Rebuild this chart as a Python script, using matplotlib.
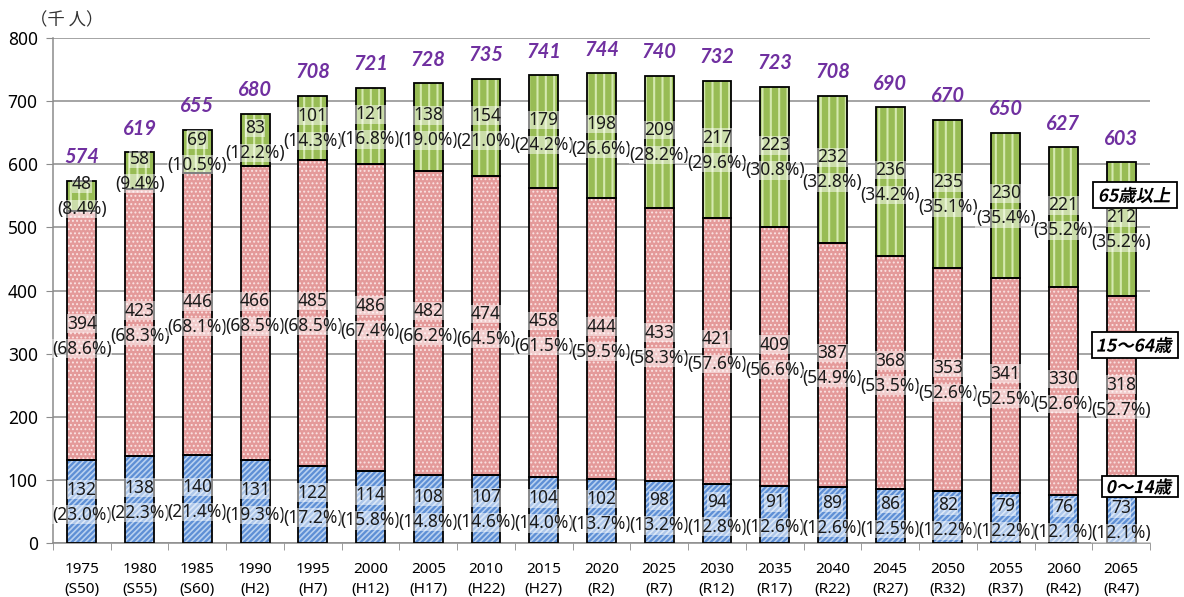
import matplotlib
matplotlib.use("Agg")
import matplotlib.pyplot as plt
import numpy as np
from matplotlib.textpath import TextPath
from matplotlib.font_manager import FontProperties
from matplotlib.patches import PathPatch, Rectangle
from matplotlib.transforms import Affine2D, IdentityTransform

plt.rcParams['font.family'] = ['Noto Sans CJK JP', 'DejaVu Sans']

years = ['1975\n(S50)', '1980\n(S55)', '1985\n(S60)', '1990\n(H2)', '1995\n(H7)',
         '2000\n(H12)', '2005\n(H17)', '2010\n(H22)', '2015\n(H27)', '2020\n(R2)',
         '2025\n(R7)', '2030\n(R12)', '2035\n(R17)', '2040\n(R22)', '2045\n(R27)',
         '2050\n(R32)', '2055\n(R37)', '2060\n(R42)', '2065\n(R47)']
young = [132, 138, 140, 131, 122, 114, 108, 107, 104, 102, 98, 94, 91, 89, 86, 82, 79, 76, 73]
young_pct = [23.0, 22.3, 21.4, 19.3, 17.2, 15.8, 14.8, 14.6, 14.0, 13.7, 13.2, 12.8, 12.6, 12.6,
             12.5, 12.2, 12.2, 12.1, 12.1]
working = [394, 423, 446, 466, 485, 486, 482, 474, 458, 444, 433, 421, 409, 387, 368, 353, 341, 330, 318]
working_pct = [68.6, 68.3, 68.1, 68.5, 68.5, 67.4, 66.2, 64.5, 61.5, 59.5, 58.3, 57.6, 56.6, 54.9,
               53.5, 52.6, 52.5, 52.6, 52.7]
elderly = [48, 58, 69, 83, 101, 121, 138, 154, 179, 198, 209, 217, 223, 232, 236, 235, 230, 221, 212]
elderly_pct = [8.4, 9.4, 10.5, 12.2, 14.3, 16.8, 19.0, 21.0, 24.2, 26.6, 28.2, 29.6, 30.8, 32.8,
               34.2, 35.1, 35.4, 35.2, 35.2]
totals = [574, 619, 655, 680, 708, 721, 728, 735, 741, 744, 740, 732, 723, 708, 690, 670, 650, 627, 603]
series_names = ['0～14歳', '15～64歳', '65歳以上']

W, H = 1184, 597
fig = plt.figure(figsize=(W/100, H/100), dpi=100)
ax = fig.add_axes([53/W, 1-543/H, 1097/W, 505/H])

x = np.arange(len(years))
w = 0.5
young_a = np.array(young)
work_a = np.array(working)
eld_a = np.array(elderly)

segs = [
    (young_a, np.zeros(len(x)), '#5E8FD5', '#B9D1F0', '//////', 1.2, young_pct),
    (work_a, young_a, '#E49A9A', '#FBE3E3', '....', 0.9, working_pct),
    (eld_a, young_a + work_a, '#98BC55', '#D5E9B0', '||', 1.5, elderly_pct),
]
label_font = ['Noto Sans', 'DejaVu Sans']
for vals, bottom, fc, hc, hatch, hlw, pcts in segs:
    with plt.rc_context({'hatch.linewidth': hlw}):
        bars = ax.bar(x, vals, w, bottom=bottom, color=fc, edgecolor=hc, hatch=hatch,
                      linewidth=0, zorder=2)
        for b in bars:
            if hasattr(b, 'set_hatch_linewidth'):
                b.set_hatch_linewidth(hlw)
    ax.bar(x, vals, w, bottom=bottom, facecolor='none', edgecolor='black', linewidth=1.3, zorder=3)
    for xi, v, b, p in zip(x, vals, bottom, pcts):
        mid = b + v / 2
        bb = dict(boxstyle='square,pad=0.02', facecolor='white', edgecolor='none', alpha=0.5)
        ax.annotate(f'{v}', (xi, mid), xytext=(0, 8.5), textcoords='offset points',
                    ha='center', va='center', fontsize=12.5, color='#1a1a1a', bbox=bb,
                    zorder=4, family=label_font)
        ax.annotate(f'({p:.1f}%)', (xi, mid), xytext=(0, -9.5), textcoords='offset points',
                    ha='center', va='center', fontsize=12.5, color='#1a1a1a', bbox=bb,
                    zorder=4, family=label_font)

for xi, t in zip(x, totals):
    ax.annotate(f'{t}', (xi, t), xytext=(0, 17), textcoords='offset points',
                ha='center', va='center', fontsize=14.5, fontweight='bold', fontstyle='italic',
                color='#7030A0', zorder=5, family=['Lato', 'DejaVu Sans'])

ax.set_xlim(-0.5, len(x) - 0.5)
ax.set_ylim(0, 800)
ax.set_yticks(range(0, 801, 100))
ax.yaxis.grid(True, color='#8c8c8c', linewidth=1.1)
ax.set_axisbelow(True)
ax.set_xticks(x)
ax.set_xticklabels(years, fontsize=11, linespacing=1.45, family=['Noto Sans', 'DejaVu Sans'])
ax.set_xticks(np.arange(-0.5, len(x), 1.0), minor=True)
ax.tick_params(axis='x', which='major', length=0, pad=14)
ax.tick_params(axis='x', which='minor', length=5, color='#8c8c8c', direction='out')
ax.tick_params(axis='y', length=5, color='#8c8c8c', labelsize=12.5, pad=6)
for lab in ax.get_yticklabels():
    lab.set_family(['Noto Sans', 'DejaVu Sans'])
for s in ['top', 'right']:
    ax.spines[s].set_visible(False)
for s in ['left', 'bottom']:
    ax.spines[s].set_color('#8c8c8c')
    ax.spines[s].set_linewidth(1.1)

fig.text(67/W, 1-20/H, '（千 人）', ha='center', va='center', fontsize=12.5, color='#333333')

# legend-like labels with italic (sheared) CJK text
prop = FontProperties(family='Noto Sans CJK JP', weight='bold')
legend_boxes = [(1102, 1178, 476, 497), (1092, 1178, 332, 358), (1093, 1177, 182, 208)]
for name, (x0, x1, y0, y1) in zip(series_names, legend_boxes):
    rect = Rectangle((x0, H - y1), x1 - x0, y1 - y0, transform=IdentityTransform(),
                     facecolor='white', edgecolor='black', linewidth=1.3, zorder=10)
    fig.add_artist(rect)
    tp = TextPath((0, 0), name, size=12.5 * 100 / 72, prop=prop)
    tp = Affine2D().skew_deg(12, 0).transform_path(tp)
    ext = tp.get_extents()
    cx, cy = (x0 + x1) / 2, H - (y0 + y1) / 2
    tr = Affine2D().translate(cx - (ext.x0 + ext.x1) / 2, cy - (ext.y0 + ext.y1) / 2)
    tp = tr.transform_path(tp)
    fig.add_artist(PathPatch(tp, transform=IdentityTransform(), facecolor='black',
                             edgecolor='none', zorder=11))

fig.savefig('out.png', dpi=100)
